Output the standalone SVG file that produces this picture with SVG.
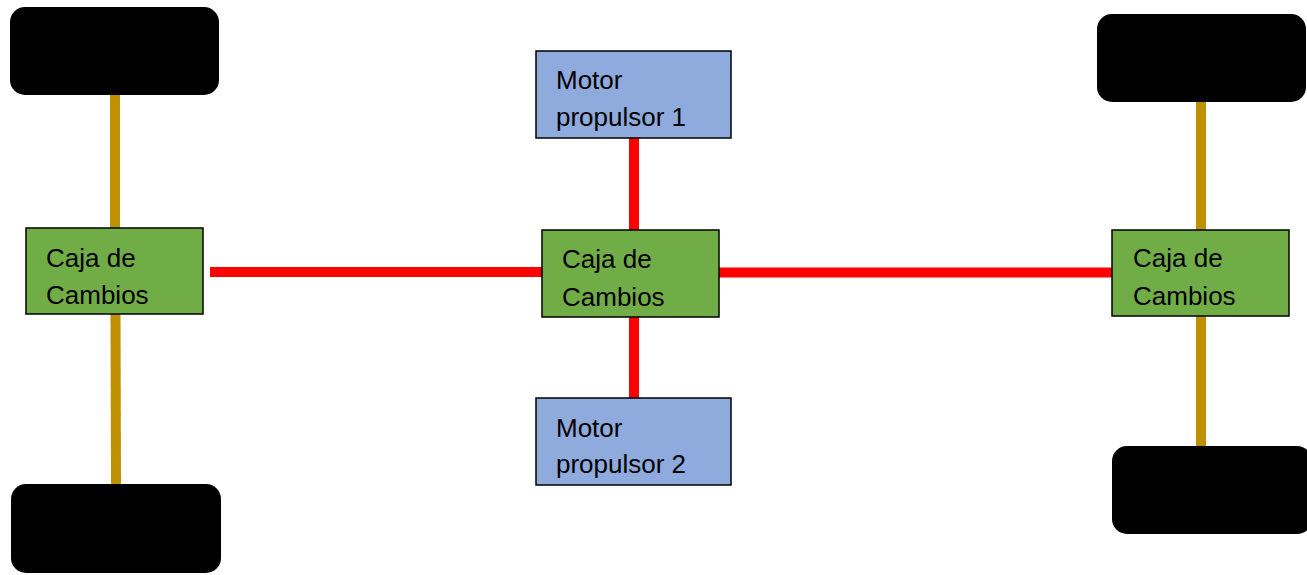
<svg xmlns="http://www.w3.org/2000/svg" width="1307" height="575" viewBox="0 0 1307 575">
<style>
.wheel{fill:#000}
.box{stroke:#000;stroke-width:1.5}
.gear{fill:#70AD47}
.motor{fill:#8FAADC}
.lbl{font-family:"Liberation Sans",Arial,sans-serif;font-size:26px;fill:#000}
.axle{stroke:#BF9000;stroke-width:10;fill:none}
.drive{stroke:#FF0000;stroke-width:10;fill:none}
</style>
<rect width="1307" height="575" fill="#fff"/>
<g id="connectors">
<line class="axle" x1="115" y1="94" x2="115" y2="229"/>
<line class="axle" x1="115.5" y1="313" x2="116" y2="485"/>
<line class="axle" x1="1201" y1="101" x2="1201" y2="231"/>
<line class="axle" x1="1201" y1="315" x2="1201" y2="447"/>
<line class="drive" x1="210" y1="272" x2="542" y2="272"/>
<line class="drive" x1="719" y1="272.5" x2="1113" y2="272.5"/>
<line class="drive" x1="634" y1="137" x2="634" y2="231"/>
<line class="drive" x1="634" y1="316" x2="634" y2="399"/>
</g>
<g id="wheel-tl"><rect class="wheel" x="10" y="7" width="209" height="88" rx="15"/></g>
<g id="wheel-bl"><rect class="wheel" x="11" y="484" width="210" height="89" rx="15"/></g>
<g id="wheel-tr"><rect class="wheel" x="1097" y="14" width="209" height="88" rx="15"/></g>
<g id="wheel-br"><rect class="wheel" x="1112" y="446" width="200" height="88" rx="15"/></g>
<g id="gear-left">
<rect class="box gear" x="26" y="228" width="177" height="86"/>
<text class="lbl" x="46" y="267">Caja de</text>
<text class="lbl" x="46" y="304">Cambios</text>
</g>
<g id="gear-center">
<rect class="box gear" x="542" y="230" width="177" height="87"/>
<text class="lbl" x="562" y="268">Caja de</text>
<text class="lbl" x="562" y="306">Cambios</text>
</g>
<g id="gear-right">
<rect class="box gear" x="1112" y="230" width="177" height="86"/>
<text class="lbl" x="1133" y="267">Caja de</text>
<text class="lbl" x="1133" y="305">Cambios</text>
</g>
<g id="motor-1">
<rect class="box motor" x="536" y="51" width="195" height="87"/>
<text class="lbl" x="556" y="89">Motor</text>
<text class="lbl" x="556" y="126">propulsor 1</text>
</g>
<g id="motor-2">
<rect class="box motor" x="536" y="398" width="195" height="87"/>
<text class="lbl" x="556" y="437">Motor</text>
<text class="lbl" x="556" y="473">propulsor 2</text>
</g>
</svg>
